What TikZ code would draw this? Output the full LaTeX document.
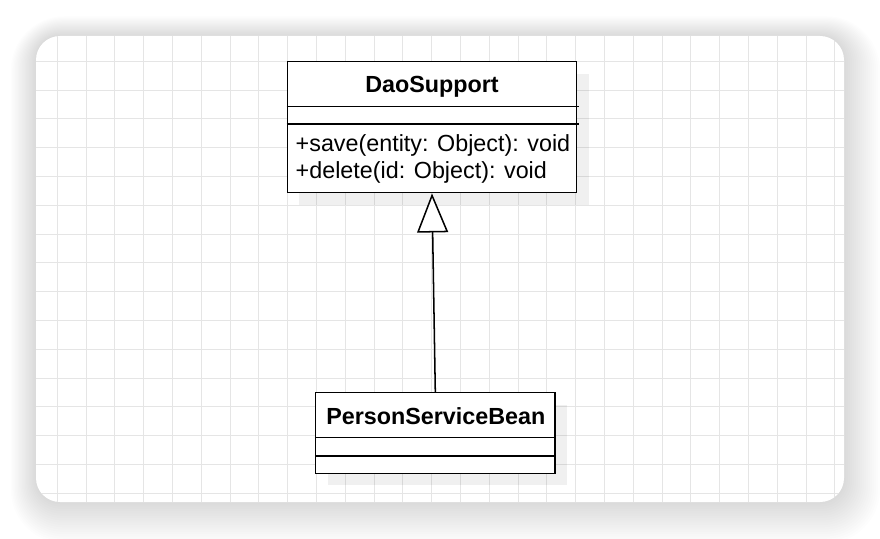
\documentclass[tikz,border=0pt]{standalone}
\usepackage{fontspec}
\setmainfont{Liberation Sans}
\usetikzlibrary{calc,arrows.meta,shadows}

\begin{document}
\begin{tikzpicture}[x=0.03cm, y=-0.03cm,
	gridline/.style={line width=0.85pt, color=black!10},
	classbox/.style={draw=black, fill=white, line width=1.3pt, inner sep=0pt,
		drop shadow={shadow xshift=0.36cm, shadow yshift=-0.36cm, fill=black, opacity=0.06}},
	classname/.style={anchor=base, inner sep=0pt, font=\fontsize{19.9}{23}\selectfont\bfseries},
	member/.style={anchor=base west, inner sep=0pt, font=\fontsize{19.9}{23}\selectfont}]
		%%%%% START %%%%%
		
		\useasboundingbox[fill=white] (0, 0) rectangle (880, 538);
		
		% card with soft shadow
		\foreach \i in {1,...,18}
			\fill[black, opacity=0.009, rounded corners=(0.72+0.05*\i)*1cm] (36-1.4*\i, 36-1.1*\i) rectangle (844+2*\i, 502+2.3*\i);
		\fill[white, rounded corners=0.72cm] (36, 36) rectangle (844, 502);
		
		\begin{scope}
			\clip[rounded corners=0.72cm] (36, 36) rectangle (844, 502);
			\foreach \x in {0,...,27}
				\draw[gridline] (57.3+28.8*\x, 36) -- ++(0, 466);
			\foreach \y in {0,...,15}
				\draw[gridline] (36, 61.3+28.8*\y) -- ++(808, 0);
		\end{scope}
		
		% DaoSupport
		\node[classbox, minimum width=8.68cm, minimum height=3.93cm] (dao) at (432, 127.2) {};
		\draw[line width=1.3pt] ($(dao.north west)!0.3435!(dao.south west)$) -- ++(292, 0);
		\draw[line width=1.3pt] ($(dao.north west)!0.4756!(dao.south west)$) -- ++(292, 0);
		\node[classname] (daoname) at (432, 92.3) {DaoSupport};
		\node[member] (save) at (295.5, 151.5) {+save(entity: Object): void};
		\node[member] (delete) at (295.5, 178.3) {+delete(id: Object): void};
		
		% PersonServiceBean
		\node[classbox, minimum width=7.18cm, minimum height=2.42cm] (psb) at (435.3, 433) {};
		\draw[line width=1.3pt] ($(psb.north west)!0.553!(psb.south west)$) -- ++(241, 0);
		\draw[line width=1.3pt] ($(psb.north west)!0.782!(psb.south west)$) -- ++(241, 0);
		\node[classname] (psbname) at (435.8, 424.3) {PersonServiceBean};
		
		% generalization
		\draw[line width=1.3pt, -{Triangle[fill=white, length=1.17cm, width=0.93cm]}] (psb.north) -- (dao.south);
		
		%%%%% END %%%%%
\end{tikzpicture}
\end{document}
